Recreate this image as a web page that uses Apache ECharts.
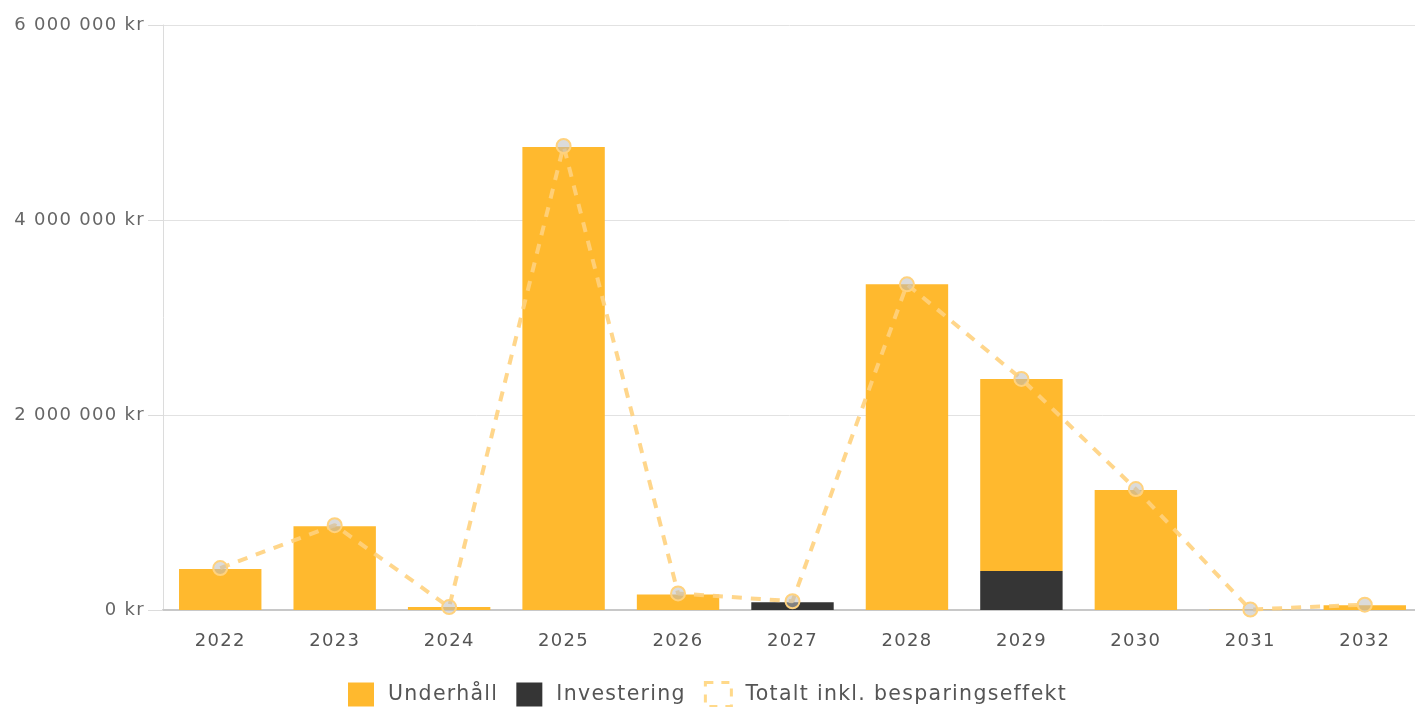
<!DOCTYPE html>
<html><head><meta charset="utf-8">
<script src="https://cdn.jsdelivr.net/npm/echarts@6/dist/echarts.min.js"></script>
<style>html,body{margin:0;padding:0;background:#fff}#c{width:1415px;height:707px}</style>
</head><body><div id="c"></div>
<script>
const years = ['2022','2023','2024','2025','2026','2027','2028','2029','2030','2031','2032'];
const underhall = [420000, 860000, 30000, 4750000, 160000, 0, 3340000, 1970000, 1230000, 5000, 50000];
const investering = [0, 0, 0, 0, 0, 80000, 0, 400000, 0, 0, 0];
const totalt = [430000, 870000, 30000, 4760000, 170000, 90000, 3340000, 2370000, 1240000, 5000, 55000];

// letter-spaced text, as in the reference
(function(){
  const d = Object.getOwnPropertyDescriptor(CanvasRenderingContext2D.prototype, 'font');
  Object.defineProperty(CanvasRenderingContext2D.prototype, 'font', {
    configurable: true,
    get(){ return d.get.call(this); },
    set(v){ d.set.call(this, v); try { this.letterSpacing = '1.3px'; } catch(e){} }
  });
})();

const fmt = v => String(Math.round(v)).replace(/\B(?=(\d{3})+(?!\d))/g, ' ') + ' kr';
const font = '"DejaVu Sans", sans-serif';
const chart = echarts.init(document.getElementById('c'));
chart.setOption({
  animation: false,
  grid: {left: 163, right: -7, top: 25, bottom: 97, outerBoundsMode: 'none'},
  legend: {
    top: 681, left: 348, itemWidth: 26, itemHeight: 24, itemGap: 18, padding: 0,
    textStyle: {fontFamily: font, fontSize: 20.5, color: '#555', padding: [0, 0, 0, 9]},
    data: [
      {name: 'Underhåll', icon: 'rect'},
      {name: 'Investering', icon: 'rect'},
      {name: 'Totalt inkl. besparingseffekt', icon: 'rect',
       itemStyle: {color: 'rgba(255,255,255,0)', borderColor: '#ffd98a', borderWidth: 3, borderType: [8, 8]}}
    ]
  },
  xAxis: {
    type: 'category', data: years,
    axisLine: {lineStyle: {color: '#c8c8c8', width: 2}},
    axisTick: {show: false},
    axisLabel: {fontFamily: font, fontSize: 18, color: '#555', margin: 22}
  },
  yAxis: {
    type: 'value', min: 0, max: 6000000, interval: 2000000,
    axisLine: {show: true, lineStyle: {color: '#dcdcdc'}},
    axisTick: {show: true, length: 15, lineStyle: {color: '#dcdcdc'}},
    splitLine: {lineStyle: {color: '#e2e2e2'}},
    axisLabel: {fontFamily: font, fontSize: 18, color: '#666', margin: 18, formatter: fmt}
  },
  series: [
    {name: 'Investering', type: 'bar', stack: 'a', data: investering, barWidth: '72%',
     itemStyle: {color: '#353535'}},
    {name: 'Underhåll', type: 'bar', stack: 'a', data: underhall, barWidth: '72%',
     itemStyle: {color: '#ffb92e'}},
    {name: 'Totalt inkl. besparingseffekt', type: 'line', data: totalt, z: 5,
     lineStyle: {color: '#ffd27e', width: 4, type: [10, 9], opacity: 0.9},
     symbol: 'circle', symbolSize: 14,
     itemStyle: {color: 'rgba(190,190,190,0.55)', borderColor: '#ffd27e', borderWidth: 2}}
  ]
});
</script></body></html>
